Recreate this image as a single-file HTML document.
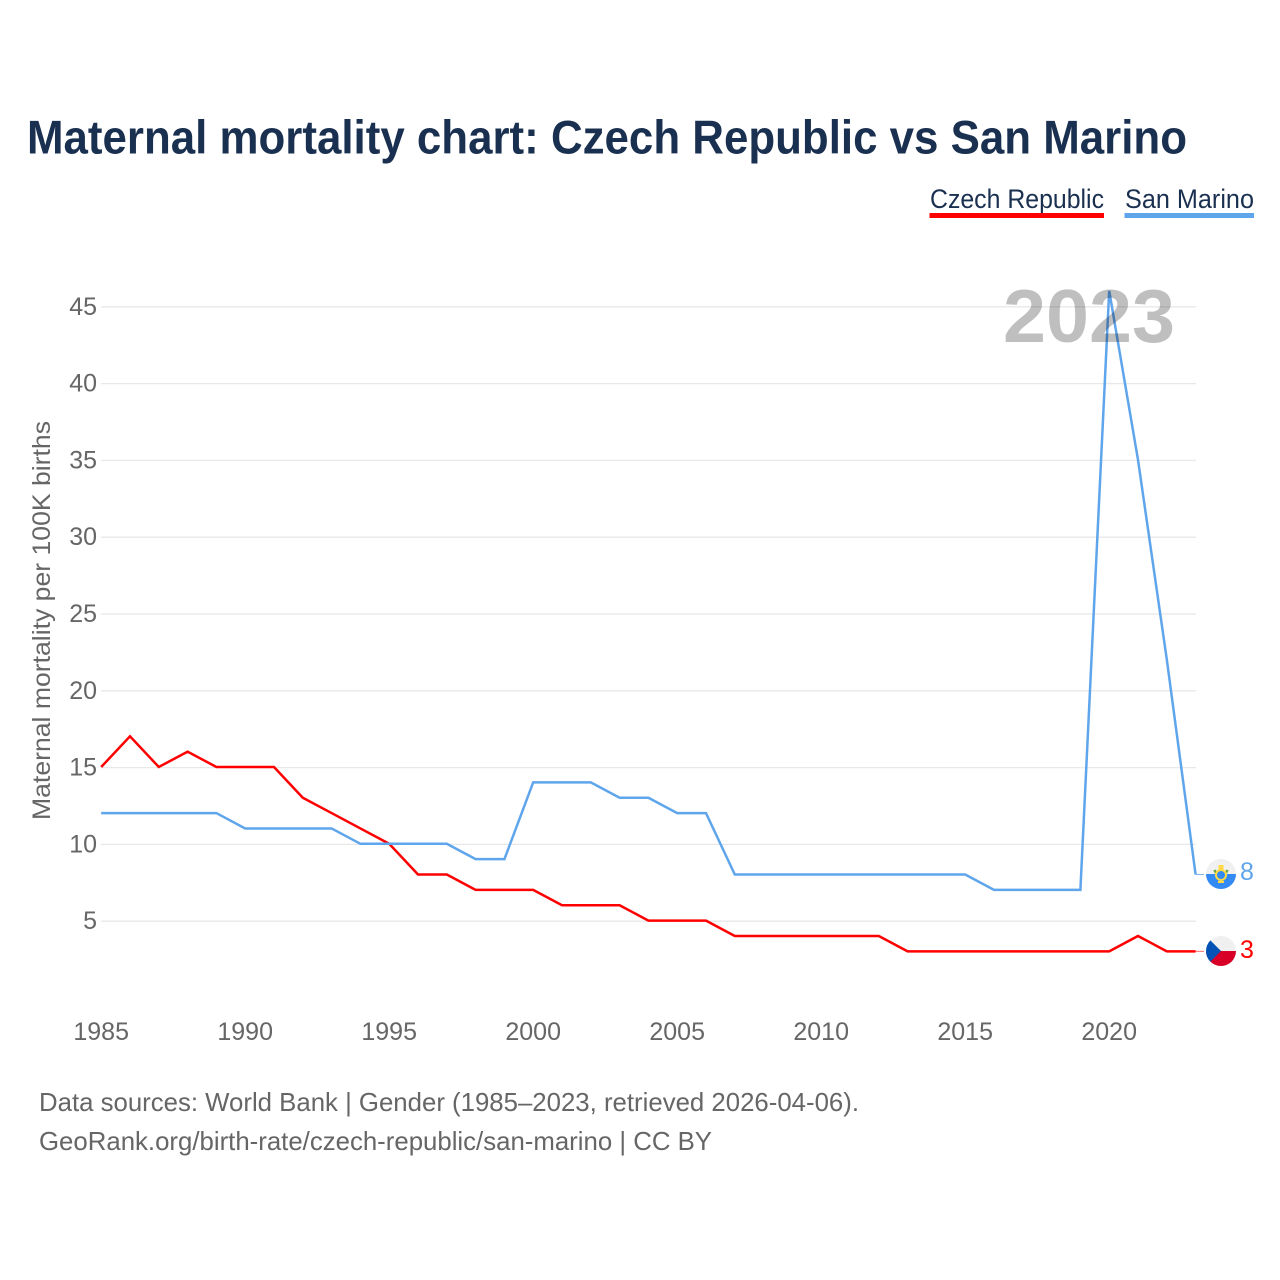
<!DOCTYPE html>
<html lang="en">
<head>
<meta charset="utf-8">
<title>Maternal mortality chart: Czech Republic vs San Marino</title>
<style>
html,body{margin:0;padding:0;background:#fff;width:1280px;height:1280px;overflow:hidden}
svg{display:block;font-family:"Liberation Sans",sans-serif}
</style>
</head>
<body>
<svg id="chart" width="1280" height="1280" viewBox="0 0 1280 1280" xmlns="http://www.w3.org/2000/svg">
  <rect width="1280" height="1280" fill="#fff"/>
  <text x="27" y="153.5" font-size="47" font-weight="700" fill="#1a3050" textLength="1160" lengthAdjust="spacingAndGlyphs">Maternal mortality chart: Czech Republic vs San Marino</text>

  <g>
    <text x="930" y="208" font-size="27" fill="#1a3050" textLength="174" lengthAdjust="spacingAndGlyphs">Czech Republic</text>
    <rect x="929.5" y="213" width="174.5" height="5" fill="#ff0000"/>
  </g>
  <g>
    <text x="1125" y="208" font-size="27" fill="#1a3050" textLength="129" lengthAdjust="spacingAndGlyphs">San Marino</text>
    <rect x="1124.5" y="213" width="129.5" height="5" fill="#5fa5ec"/>
  </g>

  <g id="grid"></g>
  <g id="y-ticks"></g>
  <g id="x-ticks"></g>
  <text transform="translate(50,620.5) rotate(-90)" text-anchor="middle" font-size="25" fill="#666" textLength="399" lengthAdjust="spacingAndGlyphs">Maternal mortality per 100K births</text>

  <g id="series"></g>

  <text x="1003" y="342" font-size="75" font-weight="700" fill="#000" fill-opacity="0.25" textLength="172" lengthAdjust="spacingAndGlyphs">2023</text>

  <g id="flag-sm">
    <clipPath id="clip-sm"><circle cx="1221" cy="874" r="15"/></clipPath>
    <g clip-path="url(#clip-sm)">
      <rect x="1206" y="859" width="30" height="15" fill="#f0f0f0"/>
      <rect x="1206" y="874" width="30" height="15" fill="#338af3"/>
      <path d="M1214.5 870 A7 7.5 0 0 0 1227.5 870" fill="none" stroke="#6da544" stroke-width="2.6"/>
      <circle cx="1221" cy="875" r="5" fill="#338af3" stroke="#ffda44" stroke-width="2"/>
      <rect x="1218.5" y="865" width="5" height="5" fill="#ffda44"/>
      <rect x="1218" y="881" width="6" height="2" fill="#ffda44"/>
    </g>
  </g>
  <g id="flag-cz">
    <clipPath id="clip-cz"><circle cx="1221" cy="951" r="15"/></clipPath>
    <g clip-path="url(#clip-cz)">
      <rect x="1206" y="936" width="30" height="15" fill="#f0f0f0"/>
      <rect x="1206" y="951" width="30" height="15" fill="#d80027"/>
      <polygon points="1206,936 1221,951 1206,966" fill="#0052b4"/>
    </g>
  </g>
  <g id="end-labels"></g>

  <text x="39" y="1111" font-size="26" fill="#666" textLength="820" lengthAdjust="spacingAndGlyphs">Data sources: World Bank | Gender (1985–2023, retrieved 2026-04-06).</text>
  <text x="39" y="1150" font-size="26" fill="#666" textLength="673" lengthAdjust="spacingAndGlyphs">GeoRank.org/birth-rate/czech-republic/san-marino | CC BY</text>
</svg>
<script>
const years = [1985,1986,1987,1988,1989,1990,1991,1992,1993,1994,1995,1996,1997,1998,1999,2000,2001,2002,2003,2004,2005,2006,2007,2008,2009,2010,2011,2012,2013,2014,2015,2016,2017,2018,2019,2020,2021,2022,2023];
const czechValues = [15,17,15,16,15,15,15,13,12,11,10,8,8,7,7,7,6,6,6,5,5,5,4,4,4,4,4,4,3,3,3,3,3,3,3,3,4,3,3];
const sanMarinoValues = [12,12,12,12,12,11,11,11,11,10,10,10,10,9,9,14,14,14,13,13,12,12,8,8,8,8,8,8,8,8,8,7,7,7,7,46,35,22,8];
const yTickValues = [5,10,15,20,25,30,35,40,45];
const xTickValues = [1985,1990,1995,2000,2005,2010,2015,2020];

const NS = 'http://www.w3.org/2000/svg';
function xScale(year) { return 101.2 + (year - 1985) * 28.8; }
function yScale(value) { return 998 - value * 15.36; }
function lineY(value) { return yScale(value) - 0.6; }
function make(tag, attrs, text) {
  const el = document.createElementNS(NS, tag);
  for (const k in attrs) el.setAttribute(k, attrs[k]);
  if (text !== undefined) el.textContent = text;
  return el;
}

const grid = document.getElementById('grid');
const yTicks = document.getElementById('y-ticks');
yTickValues.forEach(function (v) {
  const y = yScale(v);
  const line = make('line', {x1: 101, x2: 1196, y1: y, y2: y, stroke: '#e8e8e8', 'stroke-width': 1.3});
  
  
  grid.appendChild(line);
  const label = make('text', {x: 97, y: y + 8, 'text-anchor': 'end', 'font-size': 25, fill: '#666'}, String(v));
  
  
  yTicks.appendChild(label);
});

const xTicks = document.getElementById('x-ticks');
xTickValues.forEach(function (v) {
  const label = make('text', {x: xScale(v), y: 1040, 'text-anchor': 'middle', 'font-size': 25, fill: '#666'}, String(v));
  
  
  xTicks.appendChild(label);
});

function pointsFor(values) {
  return values.map(function (v, i) { return xScale(years[i]).toFixed(2) + ',' + lineY(v).toFixed(2); }).join(' ');
}
const seriesGroup = document.getElementById('series');

const czechLine = make('polyline', {points: pointsFor(czechValues), fill: 'none', stroke: '#ff0000', 'stroke-width': 2.5, 'stroke-linejoin': 'miter'});


seriesGroup.appendChild(czechLine);

const sanMarinoLine = make('polyline', {points: pointsFor(sanMarinoValues), fill: 'none', stroke: '#5fa5ec', 'stroke-width': 2.5, 'stroke-linejoin': 'miter'});


seriesGroup.appendChild(sanMarinoLine);

const lastIndex = years.length - 1;
const endLabels = document.getElementById('end-labels');

const czechConnector = make('line', {x1: xScale(years[lastIndex]), x2: 1204, y1: lineY(czechValues[lastIndex]), y2: lineY(czechValues[lastIndex]), stroke: '#ff0000', 'stroke-width': 1, 'stroke-opacity': 0.6});


endLabels.appendChild(czechConnector);

const sanMarinoConnector = make('line', {x1: xScale(years[lastIndex]), x2: 1204, y1: lineY(sanMarinoValues[lastIndex]), y2: lineY(sanMarinoValues[lastIndex]), stroke: '#5fa5ec', 'stroke-width': 1, 'stroke-opacity': 0.8});


endLabels.appendChild(sanMarinoConnector);

const czechEnd = make('text', {x: 1240, y: yScale(czechValues[lastIndex]) + 6, 'font-size': 25, fill: '#ff0000'}, String(czechValues[lastIndex]));


endLabels.appendChild(czechEnd);

const sanMarinoEnd = make('text', {x: 1240, y: yScale(sanMarinoValues[lastIndex]) + 5, 'font-size': 25, fill: '#5fa5ec'}, String(sanMarinoValues[lastIndex]));


endLabels.appendChild(sanMarinoEnd);
</script>
</body>
</html>
